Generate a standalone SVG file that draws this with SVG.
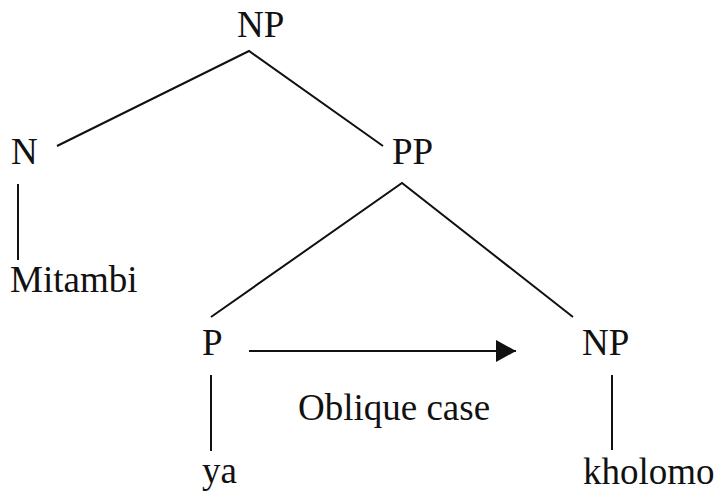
<svg xmlns="http://www.w3.org/2000/svg" width="717" height="492" viewBox="0 0 717 492">
<style>
text{font-family:"Liberation Serif","Times New Roman",serif;font-size:37px;fill:#111}
.l{stroke:#111;stroke-width:2;fill:none}
</style>
<defs><marker id="ah" markerWidth="20" markerHeight="22" refX="20" refY="11" orient="auto" markerUnits="userSpaceOnUse"><path d="M0,0L20,11L0,22Z" fill="#111"/></marker></defs>
<rect width="717" height="492" fill="#fff"/>
<g id="connectors">
<path class="l" d="M57,146L249,51L383,146"/>
<path class="l" d="M211,317L402,183L573,317"/>
<path class="l" d="M18,184V260"/>
<path class="l" d="M211,375V451"/>
<path class="l" d="M612,375V450"/>
<path class="l" d="M249,351H516" marker-end="url(#ah)"/>
</g>
<g id="np-top"><text x="237" y="37">NP</text></g>
<g id="n"><text x="11" y="164">N</text></g>
<g id="pp"><text x="392" y="164">PP</text></g>
<g id="mitambi"><text x="10" y="292">Mitambi</text></g>
<g id="p"><text x="202" y="355">P</text></g>
<g id="np"><text x="582" y="355">NP</text></g>
<g id="oblique"><text x="298" y="420">Oblique case</text></g>
<g id="ya"><text x="202" y="483">ya</text></g>
<g id="kholomo"><text x="583" y="484">kholomo</text></g>
</svg>
